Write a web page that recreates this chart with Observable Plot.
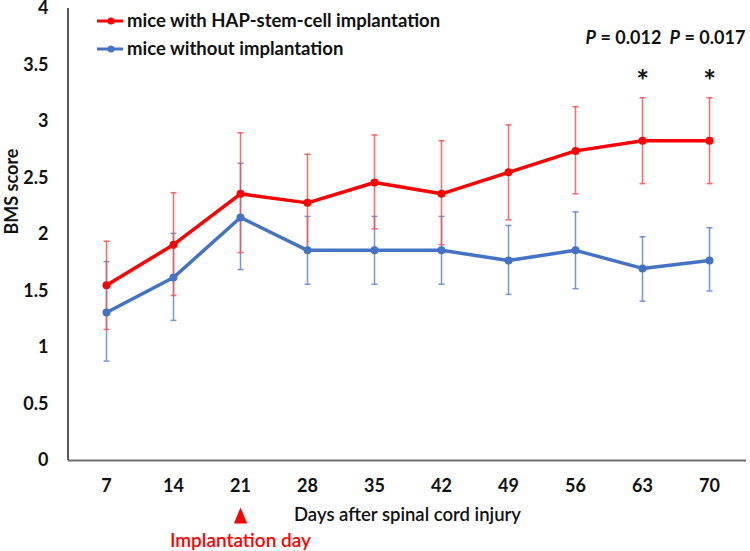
<!DOCTYPE html>
<html><head><meta charset="utf-8">
<script src="https://cdn.jsdelivr.net/npm/d3@7"></script>
<script src="https://cdn.jsdelivr.net/npm/@observablehq/plot@0.6"></script>
<style>
body{margin:0;background:#fff;}
#chart svg{display:block;}
</style>
</head><body><div id="chart"></div>
<script>
// ---- data ----
const days = [7, 14, 21, 28, 35, 42, 49, 56, 63, 70];
const seriesNames = ["mice with HAP-stem-cell implantation", "mice without implantation"];
const redMean  = [1.55, 1.91, 2.36, 2.28, 2.46, 2.36, 2.55, 2.74, 2.83, 2.83];
const redHigh  = [1.94, 2.37, 2.90, 2.71, 2.88, 2.83, 2.97, 3.13, 3.21, 3.21];
const redLow   = [1.16, 1.46, 1.84, 1.85, 2.05, 1.91, 2.13, 2.36, 2.45, 2.45];
const blueMean = [1.31, 1.62, 2.15, 1.86, 1.86, 1.86, 1.77, 1.86, 1.70, 1.77];
const blueHigh = [1.76, 2.01, 2.63, 2.16, 2.16, 2.16, 2.08, 2.20, 1.98, 2.06];
const blueLow  = [0.88, 1.24, 1.69, 1.56, 1.56, 1.56, 1.47, 1.52, 1.41, 1.50];
const yTicks = [0, 0.5, 1, 1.5, 2, 2.5, 3, 3.5, 4];
const pDays = [63, 70];
const pLabels = ["= 0.012", "= 0.017"];
const implantDay = 21;
const implantLabel = "Implantation day";
const xLabel = "Days after spinal cord injury";
const yLabel = "BMS score";

// ---- styling ----
const RED = "#ff0000", BLUE = "#4472c4";
const RED_ERR = "#ff4d4d", BLUE_ERR = "#5b84d0";
const FONT = "Lato, 'Open Sans', sans-serif";
const M = {top: 8, right: 4, bottom: 91, left: 68};
const pDx = [-57, -40];

function rows(mean, lo, hi, name) {
  return days.map((d, i) => ({day: d, mean: mean[i], lo: lo[i], hi: hi[i], series: name}));
}
const red = rows(redMean, redLow, redHigh, seriesNames[0]);
const blue = rows(blueMean, blueLow, blueHigh, seriesNames[1]);

const cap = {draw(ctx, size) { const r = Math.sqrt(size / Math.PI); ctx.moveTo(-r, 0); ctx.lineTo(r, 0); }};
const tri = {draw(ctx, size) { const r = Math.sqrt(size / Math.PI); ctx.moveTo(0, -r * 1.35); ctx.lineTo(r * 1.1, r * 1.35); ctx.lineTo(-r * 1.1, r * 1.35); ctx.closePath(); }};

function errMarks(data, color) {
  return [
    Plot.ruleX(data, {x: "day", y1: "lo", y2: "hi", stroke: color, strokeWidth: 1.5, strokeOpacity: 0.85}),
    Plot.dot(data, {x: "day", y: "lo", symbol: cap, r: 3, stroke: color, fill: "none", strokeWidth: 1.5, strokeOpacity: 0.85}),
    Plot.dot(data, {x: "day", y: "hi", symbol: cap, r: 3, stroke: color, fill: "none", strokeWidth: 1.5, strokeOpacity: 0.85})
  ];
}

const pMarks = pDays.flatMap((d, i) => [
  Plot.text([d], {x: dd => dd, frameAnchor: "top", lineAnchor: "middle", dy: 30, dx: pDx[i], text: () => "P",
    textAnchor: "start", fontStyle: "italic", fontWeight: "bold", fontSize: 18, fill: "#111"}),
  Plot.text([d], {x: dd => dd, frameAnchor: "top", lineAnchor: "middle", dy: 30, dx: pDx[i] + 15, text: () => pLabels[i],
    textAnchor: "start", fontWeight: "bold", fontSize: 18, fill: "#111"})
]);

const chart = Plot.plot({
  width: 750, height: 551,
  marginTop: M.top, marginRight: M.right, marginBottom: M.bottom, marginLeft: M.left,
  style: {fontFamily: FONT, fontSize: "17px", background: "#fff", color: "#111"},
  x: {type: "point", domain: days, padding: 0.5},
  y: {domain: [0, 4]},
  marks: [
    Plot.ruleY([0], {stroke: "#6e6e6e", strokeWidth: 2}),
    ...errMarks(blue, BLUE_ERR),
    ...errMarks(red, RED_ERR),
    Plot.line(blue, {x: "day", y: "mean", stroke: BLUE, strokeWidth: 3.5}),
    Plot.dot(blue, {x: "day", y: "mean", fill: BLUE, r: 4}),
    Plot.line(red, {x: "day", y: "mean", stroke: RED, strokeWidth: 3.5}),
    Plot.dot(red, {x: "day", y: "mean", fill: RED, r: 4}),
    Plot.axisX({tickSize: 0, tickPadding: 19, fontSize: 18, fontWeight: "bold", label: null}),
    Plot.axisY({ticks: yTicks, tickFormat: d => String(d), tickSize: 0, tickPadding: 20, fontSize: 18, fontWeight: "bold", label: null}),
    Plot.text(pDays, {x: d => d, frameAnchor: "top", lineAnchor: "middle", dy: 74, text: () => "*", fontSize: 30, fontWeight: "bold", fill: "#111"}),
    ...pMarks,
    Plot.dot([implantDay], {x: d => d, frameAnchor: "bottom", dy: 55, symbol: tri, r: 6, fill: RED, stroke: "none"}),
    Plot.text([implantLabel], {x: () => implantDay, frameAnchor: "bottom", lineAnchor: "middle", dy: 80, text: d => d, fill: RED, fontSize: 19, fontWeight: 600}),
    Plot.text([xLabel], {frameAnchor: "bottom", lineAnchor: "middle", dy: 55, text: d => d, fill: "#111", fontSize: 18.5, fontWeight: 600}),
    Plot.text([yLabel], {frameAnchor: "left", rotate: -90, dx: -56, text: d => d, fill: "#111", fontSize: 18, fontWeight: "bold"})
  ]
});

// y axis line and legend
const svg = d3.select(chart);
const ys = chart.scale("y");
svg.append("line")
  .attr("x1", M.left).attr("x2", M.left)
  .attr("y1", ys.apply(4)).attr("y2", ys.apply(0))
  .attr("stroke", "#222").attr("stroke-width", 1.5);

const legend = svg.append("g").attr("font-family", FONT).attr("font-size", 18.5).attr("font-weight", "bold").attr("text-anchor", "start");
[[seriesNames[0], RED], [seriesNames[1], BLUE]].forEach(([name, color], i) => {
  const y = 21 + i * 28;
  legend.append("line").attr("x1", 97).attr("x2", 123).attr("y1", y).attr("y2", y).attr("stroke", color).attr("stroke-width", 3);
  legend.append("circle").attr("cx", 111).attr("cy", y).attr("r", 3.5).attr("fill", color);
  legend.append("text").attr("x", 127).attr("y", y).attr("dy", "0.35em").attr("fill", "#111").text(name);
});

document.getElementById("chart").appendChild(chart);
</script>
</body></html>
